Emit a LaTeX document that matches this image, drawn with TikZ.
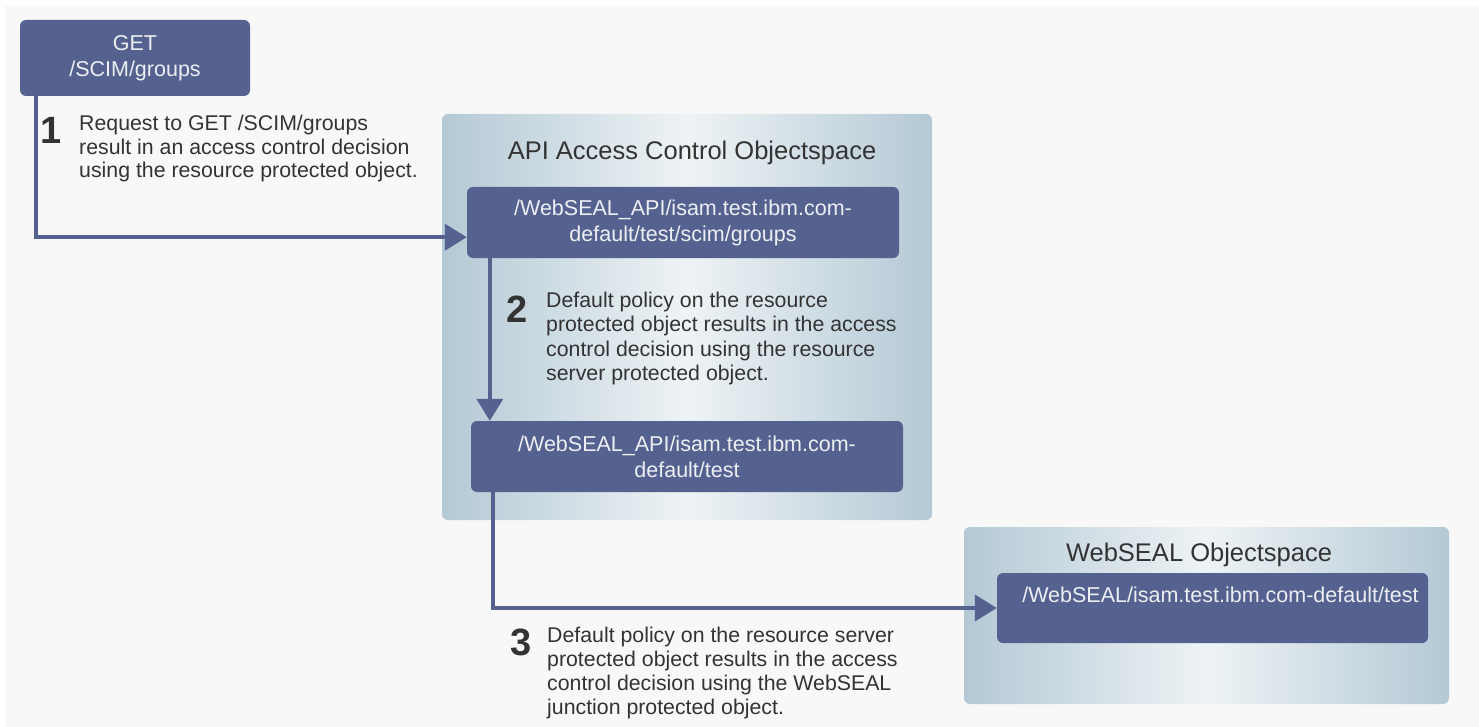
\documentclass[tikz,border=0pt]{standalone}
\usepackage{fontspec}
\setmainfont{Liberation Sans}
\usetikzlibrary{arrows.meta,calc}
\definecolor{boxblue}{HTML}{55618E}
\definecolor{boxtext}{HTML}{EDEFF4}
\definecolor{edgeblue}{HTML}{B4C9D5}
\definecolor{midblue}{HTML}{EEF3F5}
\definecolor{darktext}{HTML}{333333}
\definecolor{bggray}{HTML}{F8F8F8}
\tikzset{
  obox/.style={draw=none, fill=boxblue, rounded corners=6pt, text=boxtext, align=center,
    font=\fontsize{21.5}{26}\selectfont, inner sep=0pt},
  cont/.style={draw=none, rounded corners=6pt, left color=edgeblue, right color=edgeblue,
    middle color=midblue, inner sep=0pt},
  ctitle/.style={text=darktext, font=\fontsize{25.5}{30}\selectfont, inner sep=0pt, anchor=base},
  stepnum/.style={text=darktext, font=\fontsize{38}{40}\selectfont\bfseries, inner sep=0pt, anchor=north west},
  steptext/.style={text=darktext, align=left, inner sep=0pt, anchor=north west},
  arr/.style={draw=boxblue, line width=4pt, -{Triangle[length=22pt,width=26pt]}}
}
\begin{document}
\begin{tikzpicture}[x=1pt,y=-1pt]
\useasboundingbox (0,0) rectangle (1479,727);
\fill[white] (0,0) rectangle (1479,727);
\fill[bggray] (5,6) rectangle (1479,727);

% containers
\node[cont, minimum width=490pt, minimum height=406pt] (api) at (687,317) {};
\node[cont, minimum width=485pt, minimum height=177pt] (wsc) at (1206.5,615.5) {};
\node[ctitle] (apititle) at (692,160) {API Access Control Objectspace};
\node[ctitle] (wstitle) at (1199,561) {WebSEAL Objectspace};

% boxes
\node[obox, minimum width=230pt, minimum height=76pt] (get) at (135,58) {GET\\/SCIM/groups};
\node[obox, minimum width=432pt, minimum height=71pt] (a1) at (683,222.5)
  {/WebSEAL\_API/isam.test.ibm.com-\\default/test/scim/groups};
\node[obox, minimum width=432pt, minimum height=71pt] (a2) at (687,456.5)
  {/WebSEAL\_API/isam.test.ibm.com-\\default/test};
\node[obox, minimum width=431pt, minimum height=70pt] (w) at (1212.5,608)
  {\hspace*{16pt}/WebSEAL/isam.test.ibm.com-default/test\\\phantom{x}};

% connectors
\draw[arr] ($(get.south west)+(16,0)$) |- ($(a1.south west)+(0,-21)$);
\draw[arr] ($(a1.south west)+(23,0)$) -- ($(a2.north west)+(19,0)$);
\draw[arr] ($(a2.south west)+(22,0)$) |- (w.west);

% step labels
\node[stepnum] (n1) at (40,117) {1};
\node[steptext, font=\fontsize{21.3}{23.4}\selectfont] (t1) at (79,115)
  {Request to GET /SCIM/groups\\result in an access control decision\\using the resource protected object.};
\node[stepnum] (n2) at (506,296) {2};
\node[steptext, font=\fontsize{21.3}{24.3}\selectfont] (t2) at (546,292)
  {Default policy on the resource\\protected object results in the access\\control decision using the resource\\server protected object.};
\node[stepnum] (n3) at (510,629) {3};
\node[steptext, font=\fontsize{21.3}{24}\selectfont] (t3) at (547,627)
  {Default policy on the resource server\\protected object results in the access\\control decision using the WebSEAL\\junction protected object.};
\end{tikzpicture}
\end{document}
